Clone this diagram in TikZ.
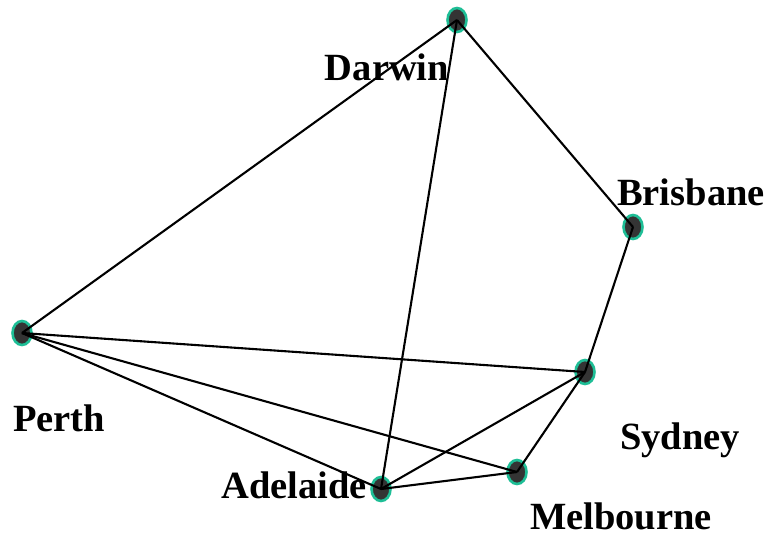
\documentclass[tikz,border=0pt]{standalone}
\usepackage{fontspec}
\setmainfont{Liberation Serif}
\usetikzlibrary{shapes.geometric}
\definecolor{cityfill}{RGB}{52,52,52}
\definecolor{cityring}{RGB}{30,190,150}

\begin{document}
\begin{tikzpicture}[x=1pt, y=-1pt,
    city/.style={ellipse, draw=cityring, line width=2.6pt, fill=cityfill,
        minimum width=19pt, minimum height=24pt, inner sep=0pt},
    lbl/.style={font=\fontsize{38.5}{40}\selectfont\bfseries, inner sep=0pt},
    road/.style={line width=2.1pt, black}]
    \useasboundingbox (0,0) rectangle (773,536);
    % cities
    \node[city] (darwin) at (457,20) {};
    \node[city] (brisbane) at (633,227) {};
    \node[city] (perth) at (22,333) {};
    \node[city] (sydney) at (585,372) {};
    \node[city] (melbourne) at (517,472) {};
    \node[city] (adelaide) at (381,489) {};
    % names
    \node[lbl] (darwinL) at (387,67) {Darwin};
    \node[lbl] (brisbaneL) at (691,192) {Brisbane};
    \node[lbl] (perthL) at (59,418) {Perth};
    \node[lbl] (sydneyL) at (680,440) {Sydney};
    \node[lbl] (melbourneL) at (621,516) {Melbourne};
    \node[lbl] (adelaideL) at (294,485) {Adelaide};
    % roads
    \foreach \a/\b in {darwin/perth, darwin/adelaide, darwin/brisbane,
        brisbane/sydney, perth/sydney, perth/melbourne, perth/adelaide,
        sydney/adelaide, sydney/melbourne, adelaide/melbourne}
        \draw[road] (\a.center) -- (\b.center);
\end{tikzpicture}
\end{document}
